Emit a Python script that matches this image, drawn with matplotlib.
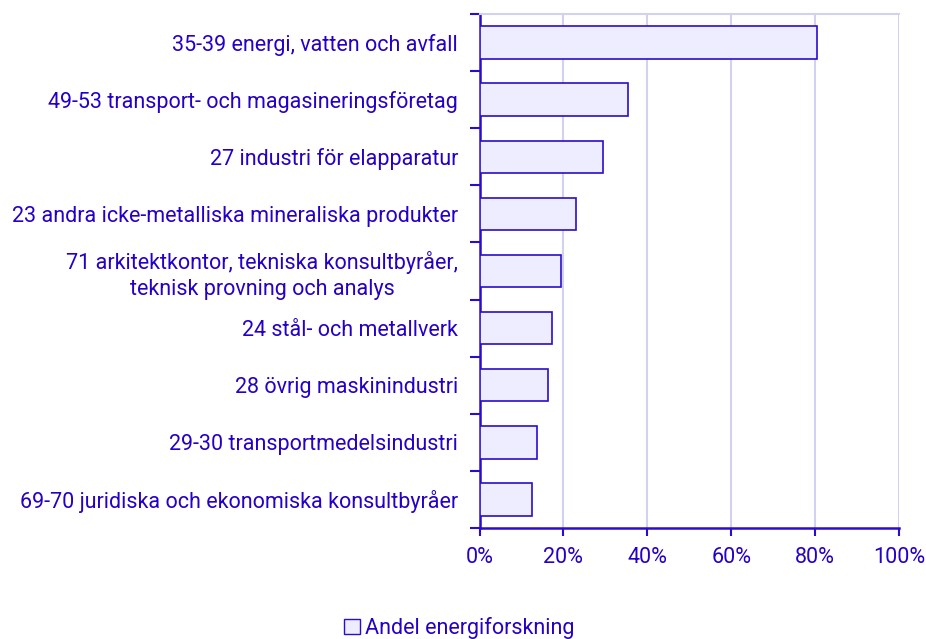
import matplotlib
matplotlib.use("Agg")
import matplotlib.pyplot as plt
from matplotlib.ticker import FixedLocator, PercentFormatter
from matplotlib.patches import Patch

plt.rcParams['font.family'] = ['Roboto', 'DejaVu Sans']

categories = [
    "35-39 energi, vatten och avfall",
    "49-53 transport- och magasineringsföretag",
    "27 industri för elapparatur",
    "23 andra icke-metalliska mineraliska produkter",
    "71 arkitektkontor, tekniska konsultbyråer,\nteknisk provning och analys",
    "24 stål- och metallverk",
    "28 övrig maskinindustri",
    "29-30 transportmedelsindustri",
    "69-70 juridiska och ekonomiska konsultbyråer",
]
values = [80.5, 35.3, 29.5, 22.9, 19.5, 17.3, 16.3, 13.8, 12.6]
series_name = "Andel energiforskning"
xticks = [0, 20, 40, 60, 80, 100]

text_c = '#2400c8'
edge_c = '#2a0dcc'
fill_c = '#ededff'
grid_c = '#d2d2f0'
fs = 15.5

fig = plt.figure(figsize=(9.26, 6.39), dpi=100)
ax = fig.add_axes([479.5/926, 1 - 528/639, (899 - 479.5)/926, (528 - 14)/639])

n = len(categories)
ypos = list(range(n))
ax.barh(ypos, values, height=0.57, color=fill_c, edgecolor=edge_c, linewidth=1.2, zorder=3)

ax.set_xlim(0, 100)
ax.set_ylim(n - 0.5, -0.5)
ax.set_xticks(xticks)
ax.xaxis.set_major_formatter(PercentFormatter(decimals=0))
ax.grid(axis='x', color=grid_c, linewidth=1.5, zorder=0)

ax.set_yticks(ypos)
ax.set_yticklabels(categories, color=text_c, fontsize=fs, ha='right', linespacing=1.3)
ax.tick_params(axis='y', which='major', length=0, pad=15.5)
ax.yaxis.set_minor_locator(FixedLocator([i - 0.5 for i in range(n + 1)]))
ax.tick_params(axis='y', which='minor', length=7, width=1.5, color=edge_c, direction='out')
for lbl in ax.get_yticklabels():
    lbl.set_multialignment('center')

ax.tick_params(axis='x', colors=text_c, labelsize=fs, length=6, width=1.5, pad=8)
ax.tick_params(axis='x', which='major', color=edge_c)

for s in ['left', 'bottom']:
    ax.spines[s].set_color(edge_c)
    ax.spines[s].set_linewidth(1.8)
ax.spines['top'].set_color(grid_c)
ax.spines['top'].set_linewidth(1.5)
ax.spines['right'].set_visible(False)

handle = Patch(facecolor=fill_c, edgecolor=edge_c, linewidth=1.0)
leg = fig.legend([handle], [series_name], loc='center', bbox_to_anchor=(459/926, 1 - 628/639),
                 frameon=False, fontsize=fs, handlelength=0.75, handleheight=0.75, handletextpad=0.25)
for t in leg.get_texts():
    t.set_color(text_c)

fig.savefig("out.png", dpi=100)
